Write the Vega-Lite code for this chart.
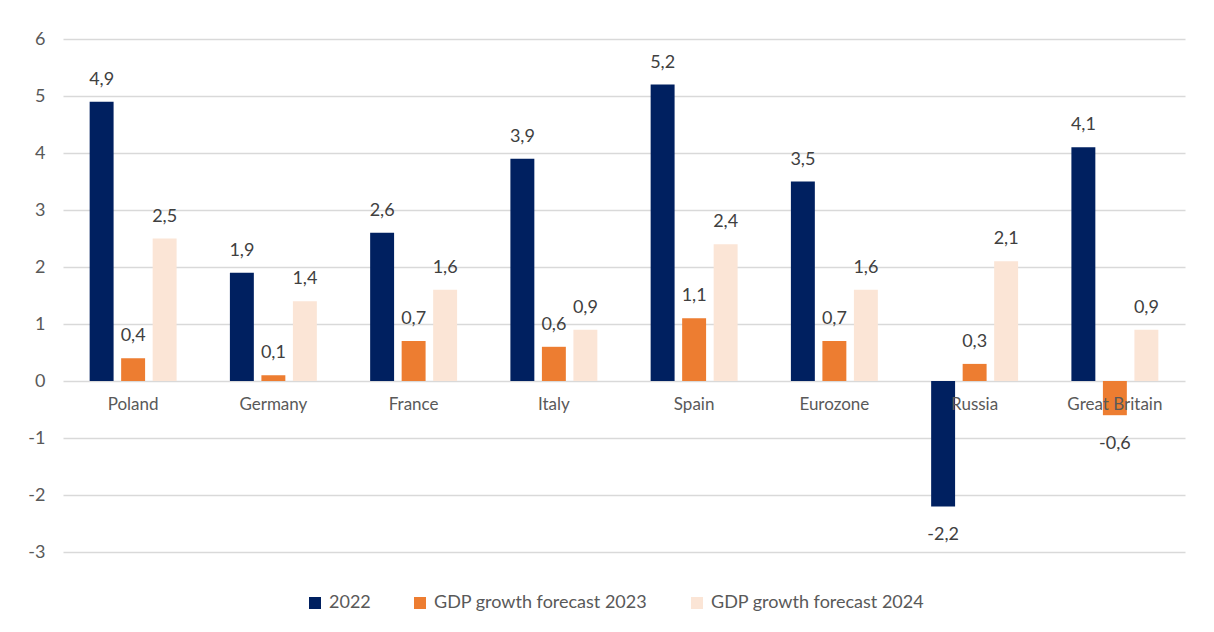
{
  "$schema": "https://vega.github.io/schema/vega-lite/v6.json",
  "autosize": {"type": "none"},
  "padding": {"left": 63, "top": 39, "right": 29, "bottom": 80},
  "width": 1122,
  "height": 513,
  "background": "white",
  "config": {
    "locale": {"number": {"decimal": ",", "thousands": ".", "grouping": [3], "currency": ["", ""], "minus": "-"}},
    "font": "Lato",
    "view": {"stroke": null}
  },
  "data": {
    "values": [
      {"country": "Poland", "series": "2022", "value": 4.9},
      {"country": "Poland", "series": "GDP growth forecast 2023", "value": 0.4},
      {"country": "Poland", "series": "GDP growth forecast 2024", "value": 2.5},
      {"country": "Germany", "series": "2022", "value": 1.9},
      {"country": "Germany", "series": "GDP growth forecast 2023", "value": 0.1},
      {"country": "Germany", "series": "GDP growth forecast 2024", "value": 1.4},
      {"country": "France", "series": "2022", "value": 2.6},
      {"country": "France", "series": "GDP growth forecast 2023", "value": 0.7},
      {"country": "France", "series": "GDP growth forecast 2024", "value": 1.6},
      {"country": "Italy", "series": "2022", "value": 3.9},
      {"country": "Italy", "series": "GDP growth forecast 2023", "value": 0.6},
      {"country": "Italy", "series": "GDP growth forecast 2024", "value": 0.9},
      {"country": "Spain", "series": "2022", "value": 5.2},
      {"country": "Spain", "series": "GDP growth forecast 2023", "value": 1.1},
      {"country": "Spain", "series": "GDP growth forecast 2024", "value": 2.4},
      {"country": "Eurozone", "series": "2022", "value": 3.5},
      {"country": "Eurozone", "series": "GDP growth forecast 2023", "value": 0.7},
      {"country": "Eurozone", "series": "GDP growth forecast 2024", "value": 1.6},
      {"country": "Russia", "series": "2022", "value": -2.2},
      {"country": "Russia", "series": "GDP growth forecast 2023", "value": 0.3},
      {"country": "Russia", "series": "GDP growth forecast 2024", "value": 2.1},
      {"country": "Great Britain", "series": "2022", "value": 4.1},
      {"country": "Great Britain", "series": "GDP growth forecast 2023", "value": -0.6},
      {"country": "Great Britain", "series": "GDP growth forecast 2024", "value": 0.9}
    ]
  },
  "encoding": {
    "x": {
      "field": "country",
      "type": "nominal",
      "sort": null,
      "axis": null,
      "scale": {"paddingInner": 0.38, "paddingOuter": 0.19}
    }
  },
  "layer": [
    {
      "mark": {"type": "bar"},
      "encoding": {
        "xOffset": {"field": "series", "type": "nominal", "scale": {"paddingInner": 0.24, "paddingOuter": 0}},
        "y": {
          "field": "value",
          "type": "quantitative",
          "scale": {"domain": [-3, 6], "nice": false, "zero": false},
          "axis": {
            "title": null,
            "values": [-3, -2, -1, 0, 1, 2, 3, 4, 5, 6],
            "format": "d",
            "domain": false,
            "ticks": false,
            "grid": true,
            "gridColor": "#d9d9d9",
            "gridWidth": 1.5,
            "labelFont": "Lato",
            "labelFontSize": 18,
            "labelColor": "#595959",
            "labelPadding": 18
          }
        },
        "color": {
          "field": "series",
          "type": "nominal",
          "scale": {
            "domain": ["2022", "GDP growth forecast 2023", "GDP growth forecast 2024"],
            "range": ["#002060", "#ED7D31", "#FBE5D6"]
          },
          "legend": {
            "title": null,
            "orient": "none",
            "legendX": 243,
            "legendY": 555,
            "direction": "horizontal",
            "symbolType": "square",
            "symbolSize": 144,
            "symbolStrokeWidth": 0,
            "labelFont": "Lato",
            "labelFontSize": 18,
            "labelLimit": 0,
            "labelColor": "#595959",
            "labelOffset": 5,
            "columnPadding": 40
          }
        }
      }
    },
    {
      "transform": [{"filter": "datum.value >= 0"}],
      "mark": {"type": "text", "baseline": "alphabetic", "dy": -17, "fontSize": 18, "color": "#404040", "font": "Lato"},
      "encoding": {
        "xOffset": {"field": "series", "type": "nominal", "scale": {"paddingInner": 0.24, "paddingOuter": 0}},
        "y": {"field": "value", "type": "quantitative"},
        "text": {"field": "value", "type": "quantitative", "format": ".1f"}
      }
    },
    {
      "transform": [{"filter": "datum.value < 0"}],
      "mark": {"type": "text", "baseline": "alphabetic", "dy": 34, "fontSize": 18, "color": "#404040", "font": "Lato"},
      "encoding": {
        "xOffset": {"field": "series", "type": "nominal", "scale": {"paddingInner": 0.24, "paddingOuter": 0}},
        "y": {"field": "value", "type": "quantitative"},
        "text": {"field": "value", "type": "quantitative", "format": ".1f"}
      }
    },
    {
      "transform": [{"filter": "datum.series == '2022'"}],
      "mark": {"type": "text", "baseline": "alphabetic", "dy": 29, "fontSize": 17, "color": "#595959", "font": "Lato"},
      "encoding": {
        "y": {"datum": 0},
        "text": {"field": "country", "type": "nominal"}
      }
    }
  ]
}
